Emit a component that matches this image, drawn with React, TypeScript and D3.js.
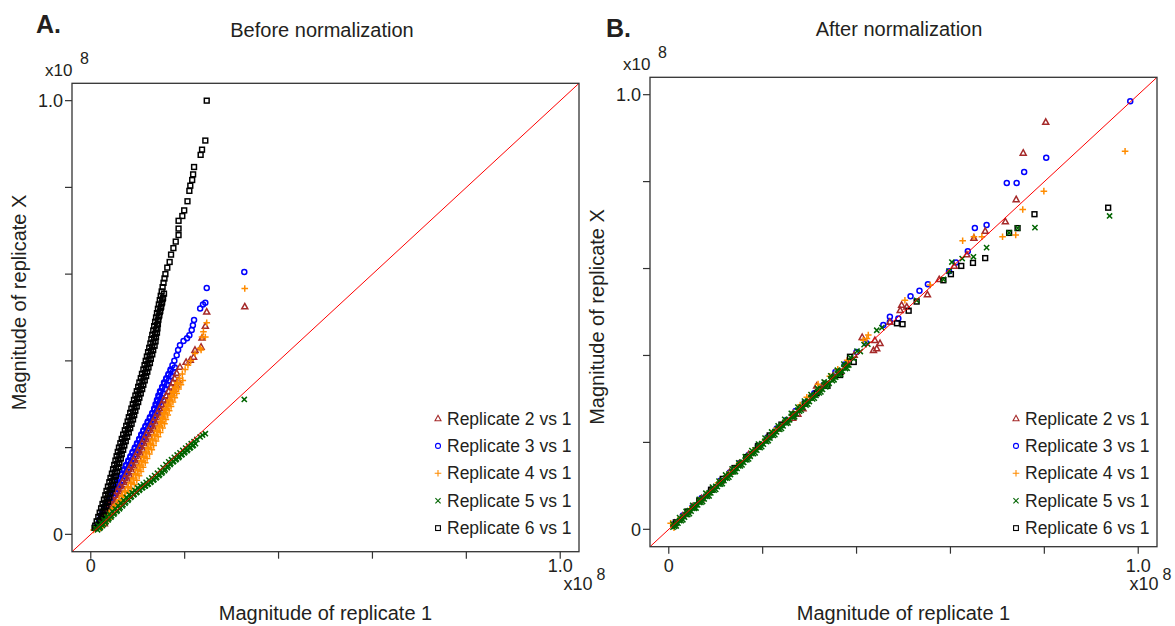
import React from 'react';
import * as d3 from 'd3';

type P = [number, number];

// values in units of 1e6 (axis shows x10^8, 1.0 = 100)
const seriesNames = ['Replicate 2 vs 1', 'Replicate 3 vs 1', 'Replicate 4 vs 1', 'Replicate 5 vs 1', 'Replicate 6 vs 1'];
const seriesColors = ['#a52a2a', '#0000ff', '#ff8c00', '#006400', '#000000'];
const seriesShapes = ['triangle', 'circle', 'plus', 'cross', 'square'];
const drawOrder = [1, 0, 2, 4, 3];

const axisTicks = [0, 20, 40, 60, 80, 100];
const tickLabelMap: Record<number, string> = { 0: '0', 100: '1.0' };

// ---------- Panel A : before normalization ----------
const beforeRep2: P[] = [
  [1.75, 2], [2.2, 3], [2.65, 4], [3.1, 5], [3.6, 6], [4.05, 7], [4.55, 8], [5.1, 9], [5.6, 10], [6.15, 11],
  [6.7, 12], [7.2, 13], [7.65, 14], [8.1, 15], [8.6, 16], [9.05, 17], [9.5, 18], [9.95, 19], [10.4, 20], [10.9, 21],
  [11.35, 22], [11.8, 23], [12.3, 24], [12.75, 25], [13.25, 26], [13.7, 27], [14.2, 28], [14.65, 29], [15.1, 30],
  [15.55, 31], [16.05, 32], [16.6, 33], [17.1, 34], [17.5, 35], [17.9, 36], [18.3, 37.2], [19.0, 38.6], [20.3, 39.7],
  [21.2, 40.2], [21.9, 40.9], [22.2, 42.5], [23.5, 43.2], [23.7, 45.3], [24.4, 48.0], [24.7, 51.3], [32.8, 52.5],
];
const beforeRep2Edge: P[] = [
  [2.9, 2.5], [3.3, 3.5], [3.8, 4.5], [4.25, 5.5], [4.7, 6.5], [5.2, 7.5], [5.7, 8.5], [6.25, 9.5], [6.8, 10.5],
  [7.3, 11.5], [7.85, 12.5], [8.3, 13.5], [8.8, 14.5], [9.25, 15.5], [9.7, 16.5], [10.2, 17.5], [10.6, 18.5],
  [11.1, 19.5], [11.55, 20.5], [12.0, 21.5], [12.5, 22.5], [12.95, 23.5], [13.4, 24.5], [13.9, 25.5], [14.4, 26.5],
  [14.85, 27.5], [15.3, 28.5], [15.8, 29.5], [16.2, 30.5], [16.7, 31.5], [17.2, 32.5], [17.7, 33.5], [18.2, 34.5],
  [18.6, 35.5],
];
const beforeRep3: P[] = [
  [1.4, 2], [1.8, 3], [2.15, 4], [2.5, 5], [2.9, 6], [3.35, 7], [3.8, 8], [4.3, 9], [4.75, 10], [5.2, 11], [5.65, 12],
  [6.1, 13], [6.6, 14], [7.05, 15], [7.5, 16], [8.0, 17], [8.45, 18], [8.9, 19], [9.4, 20], [9.85, 21], [10.3, 22],
  [10.75, 23], [11.2, 24], [11.65, 25], [12.15, 26], [12.6, 27], [13.1, 28], [13.5, 29], [13.8, 30], [14.1, 31],
  [14.4, 32], [14.75, 33], [15.2, 34], [15.6, 35], [16.1, 36], [16.55, 37], [17.0, 38], [17.4, 39], [17.8, 40],
  [18.3, 41.3], [18.6, 42.5], [19.0, 43.6], [19.75, 44.6], [20.5, 45.2], [21.0, 45.9], [21.5, 47.1], [21.75, 48.2],
  [22.0, 49.4], [23.3, 52.1], [23.9, 53.0], [24.4, 53.4], [24.7, 56.8], [32.7, 60.5],
];
const beforeRep3Mid: P[] = [
  [1.85, 2.75], [2.25, 3.75], [2.6, 4.75], [2.95, 5.75], [3.35, 6.75], [3.8, 7.75], [4.25, 8.75], [4.75, 9.75],
  [5.2, 10.75], [5.65, 11.75], [6.1, 12.75], [6.55, 13.75], [7.05, 14.75], [7.5, 15.75], [7.95, 16.75], [8.45, 17.75],
  [8.9, 18.75], [9.35, 19.75], [9.85, 20.75], [10.3, 21.75], [10.75, 22.75], [11.2, 23.75], [11.65, 24.75],
  [12.1, 25.75], [12.6, 26.75], [13.05, 27.75], [13.55, 28.75], [13.95, 29.75], [14.25, 30.75], [14.55, 31.75],
  [14.85, 32.75], [15.2, 33.75], [15.65, 34.75], [16.05, 35.75], [16.55, 36.75], [17.0, 37.75],
];
const beforeRep3Edge: P[] = [
  [2.4, 2.5], [2.8, 3.5], [3.1, 4.5], [3.5, 5.5], [3.9, 6.5], [4.4, 7.5], [4.85, 8.5], [5.3, 9.5], [5.8, 10.5],
  [6.2, 11.5], [6.7, 12.5], [7.15, 13.5], [7.6, 14.5], [8.1, 15.5], [8.55, 16.5], [9.0, 17.5], [9.5, 18.5],
  [9.95, 19.5], [10.4, 20.5], [10.9, 21.5], [11.3, 22.5], [11.8, 23.5], [12.2, 24.5], [12.7, 25.5], [13.2, 26.5],
  [13.6, 27.5], [14.1, 28.5], [14.4, 29.5], [14.75, 30.5], [15.05, 31.5], [15.4, 32.5], [15.8, 33.5], [16.2, 34.5],
  [16.6, 35.5], [17.1, 36.5], [17.5, 37.5], [17.9, 38.5],
];
const beforeRep4: P[] = [
  [0.6, 1], [1.6, 2], [2.5, 3], [3.3, 4], [4.0, 5], [4.75, 6], [5.5, 7], [6.1, 8], [6.75, 9], [7.4, 10], [8.0, 11],
  [8.55, 12], [9.05, 13], [9.5, 14], [9.95, 15], [10.35, 16], [10.8, 17], [11.25, 18], [11.75, 19], [12.2, 20],
  [12.65, 21], [13.1, 22], [13.6, 23], [14.05, 24], [14.5, 25], [14.85, 26], [15.2, 27], [15.55, 28], [15.9, 29],
  [16.3, 30], [16.7, 31], [17.1, 32], [17.5, 33], [17.95, 34], [18.4, 35], [18.9, 36], [19.5, 37], [20.1, 38],
  [20.7, 39], [21.3, 40], [22.2, 41.7], [23.3, 42.9], [23.5, 42.5], [23.7, 45.5], [24.0, 46.7], [24.4, 45.5],
  [24.7, 48.8], [32.8, 56.7],
];
const beforeRep4Mid: P[] = [
  [1.1, 1.75], [2.1, 2.75], [3.0, 3.75], [3.8, 4.75], [4.5, 5.75], [5.25, 6.75], [6.0, 7.75], [6.6, 8.75],
  [7.25, 9.75], [7.9, 10.75], [8.5, 11.75], [9.05, 12.75], [9.55, 13.75], [10.0, 14.75], [10.45, 15.75],
  [10.85, 16.75], [11.3, 17.75], [11.75, 18.75], [12.25, 19.75], [12.7, 20.75], [13.15, 21.75], [13.6, 22.75],
  [14.1, 23.75], [14.55, 24.75], [15.0, 25.75], [15.35, 26.75], [15.7, 27.75], [16.05, 28.75], [16.4, 29.75],
  [16.8, 30.75], [17.2, 31.75], [17.6, 32.75], [18.0, 33.75], [18.45, 34.75],
];
const beforeRep4Edge: P[] = [
  [2.1, 1.5], [3.05, 2.5], [3.9, 3.5], [4.65, 4.5], [5.4, 5.5], [6.1, 6.5], [6.8, 7.5], [7.4, 8.5], [8.1, 9.5],
  [8.7, 10.5], [9.3, 11.5], [9.8, 12.5], [10.3, 13.5], [10.7, 14.5], [11.15, 15.5], [11.6, 16.5], [12.0, 17.5],
  [12.5, 18.5], [13.0, 19.5], [13.4, 20.5], [13.9, 21.5], [14.35, 22.5], [14.8, 23.5], [15.3, 24.5], [15.7, 25.5],
  [16.0, 26.5], [16.4, 27.5], [16.7, 28.5], [17.1, 29.5], [17.5, 30.5], [17.9, 31.5], [18.3, 32.5], [18.7, 33.5],
  [19.2, 34.5], [19.6, 35.5],
];
const beforeRep5: P[] = [
  [1.0, 1.4], [1.6, 2.0], [2.2, 2.7], [2.8, 3.35], [3.4, 4.0], [4.0, 4.65], [4.6, 5.3], [5.2, 5.9], [5.8, 6.55],
  [6.4, 7.2], [7.0, 7.85], [7.6, 8.5], [8.2, 9.1], [8.8, 9.6], [9.4, 10.15], [10.0, 10.7], [10.6, 11.15], [11.2, 11.55],
  [11.8, 12.0], [12.4, 12.5], [13.0, 13.0], [13.6, 13.55], [14.2, 14.1], [14.8, 14.75], [15.4, 15.4], [16.0, 16.1],
  [16.6, 16.7], [17.2, 17.2], [17.8, 17.75], [18.4, 18.3], [19.0, 18.8], [19.6, 19.35], [20.2, 19.9], [20.8, 20.4],
  [21.4, 20.9], [22.0, 21.4], [22.6, 21.9], [23.3, 22.45], [23.8, 22.9], [24.4, 23.2], [32.7, 31.1],
];
const beforeRep5Mid: P[] = [
  [1.45, 1.05], [2.05, 1.65], [2.65, 2.35], [3.25, 3.0], [3.85, 3.65], [4.45, 4.3], [5.05, 4.95], [5.65, 5.55],
  [6.25, 6.2], [6.85, 6.85], [7.45, 7.5], [8.05, 8.15], [8.65, 8.75], [9.25, 9.25], [9.85, 9.8], [10.45, 10.35],
  [11.05, 10.8], [11.65, 11.2], [12.25, 11.65], [12.85, 12.15], [13.45, 12.65], [14.05, 13.2], [14.65, 13.75],
  [15.25, 14.4], [15.85, 15.05], [16.45, 15.75], [17.05, 16.35], [17.65, 16.85], [18.25, 17.4], [18.85, 17.95],
  [19.45, 18.45], [20.05, 19.0], [20.65, 19.55], [21.25, 20.05], [21.85, 20.55],
];
const beforeRep5Edge: P[] = [
  [1.9, 1.4], [2.5, 2.0], [3.1, 2.7], [3.7, 3.35], [4.3, 4.0], [4.9, 4.65], [5.5, 5.3], [6.1, 5.9], [6.7, 6.55],
  [7.3, 7.2], [7.9, 7.85], [8.5, 8.5], [9.1, 9.1], [9.7, 9.6], [10.3, 10.15], [10.9, 10.7], [11.5, 11.1],
  [12.1, 11.5], [12.7, 12.0], [13.3, 12.5], [13.9, 13.0], [14.5, 13.55], [15.1, 14.1], [15.7, 14.7], [16.3, 15.4],
  [16.9, 16.1], [17.5, 16.7], [18.1, 17.2], [18.7, 17.7], [19.3, 18.3], [19.9, 18.8], [20.5, 19.3], [21.1, 19.9],
  [21.7, 20.4], [22.3, 20.9],
];
const beforeRep6: P[] = [
  [0.8, 1.5], [0.95, 2], [1.25, 3], [1.6, 4], [1.9, 5], [2.2, 6], [2.5, 7], [2.8, 8], [3.1, 9], [3.35, 10], [3.65, 11],
  [3.95, 12], [4.2, 13], [4.5, 14], [4.75, 15], [5.0, 16], [5.25, 17], [5.5, 18], [5.75, 19], [6.0, 20], [6.3, 21],
  [6.6, 22], [6.9, 23], [7.25, 24], [7.55, 25], [7.85, 26], [8.1, 27], [8.4, 28], [8.65, 29], [8.95, 30], [9.2, 31],
  [9.5, 32], [9.8, 33], [10.1, 34], [10.35, 35], [10.65, 36], [10.9, 37], [11.2, 38], [11.45, 39], [11.7, 40],
  [11.95, 41], [12.2, 42], [12.45, 43], [12.7, 44], [12.9, 45], [13.1, 46], [13.3, 47], [13.5, 48], [13.7, 49],
  [13.9, 50], [14.1, 51], [14.3, 52], [14.5, 53], [14.7, 54], [14.9, 55], [15.1, 56], [15.3, 57], [15.5, 58],
  [15.7, 59], [15.9, 60], [16.3, 61.5], [16.8, 62.8], [17.1, 64.5], [17.6, 66.0], [18.1, 67.5], [18.7, 69.0],
  [18.7, 70.5], [18.7, 72.3], [19.5, 73.4], [19.9, 74.7], [20.6, 76.8], [21.0, 79.2], [21.2, 80.4], [21.6, 81.7],
  [21.8, 83.0], [22.0, 84.7], [23.4, 87.5], [23.7, 88.7], [24.4, 90.8], [24.7, 100.0],
];
const beforeRep6Mid: P[] = [
  [1.6, 2.25], [1.9, 3.25], [2.2, 4.25], [2.5, 5.25], [2.8, 6.25], [3.1, 7.25], [3.4, 8.25], [3.7, 9.25], [4.0, 10.25],
  [4.3, 11.25], [4.55, 12.25], [4.85, 13.25], [5.1, 14.25], [5.35, 15.25], [5.6, 16.25], [5.85, 17.25], [6.1, 18.25],
  [6.35, 19.25], [6.6, 20.25], [6.9, 21.25], [7.2, 22.25], [7.55, 23.25], [7.9, 24.25], [8.2, 25.25], [8.45, 26.25],
  [8.75, 27.25], [9.0, 28.25], [9.3, 29.25], [9.55, 30.25], [9.85, 31.25], [10.1, 32.25], [10.4, 33.25],
  [10.7, 34.25], [11.0, 35.25], [11.25, 36.25], [11.55, 37.25], [11.8, 38.25], [12.05, 39.25], [12.3, 40.25],
  [12.55, 41.25], [12.8, 42.25], [13.05, 43.25], [13.3, 44.25], [13.5, 45.25], [13.7, 46.25], [13.9, 47.25],
  [14.1, 48.25], [14.3, 49.25], [14.5, 50.25], [14.7, 51.25], [14.9, 52.25], [15.1, 53.25], [15.3, 54.25],
];
const beforeRep6Edge: P[] = [
  [2.1, 2.5], [2.4, 3.5], [2.75, 4.5], [3.05, 5.5], [3.35, 6.5], [3.65, 7.5], [3.95, 8.5], [4.2, 9.5], [4.5, 10.5],
  [4.8, 11.5], [5.1, 12.5], [5.35, 13.5], [5.6, 14.5], [5.9, 15.5], [6.1, 16.5], [6.4, 17.5], [6.6, 18.5],
  [6.9, 19.5], [7.15, 20.5], [7.45, 21.5], [7.75, 22.5], [8.1, 23.5], [8.4, 24.5], [8.7, 25.5], [9.0, 26.5],
  [9.25, 27.5], [9.5, 28.5], [9.8, 29.5], [10.1, 30.5], [10.35, 31.5], [10.65, 32.5], [10.95, 33.5], [11.2, 34.5],
  [11.5, 35.5], [11.8, 36.5], [12.05, 37.5], [12.3, 38.5], [12.6, 39.5], [12.8, 40.5], [13.1, 41.5], [13.3, 42.5],
  [13.6, 43.5], [13.8, 44.5], [13.9, 45.5], [14.1, 46.5], [14.2, 47.5], [14.3, 48.5], [14.4, 49.5], [14.6, 50.5],
  [14.8, 51.5], [15.0, 52.5], [15.2, 53.5], [15.4, 54.5], [15.6, 55.5],
];

// ---------- Panel B : after normalization ----------
const afterRep2: P[] = [
  [1.2, 1.4], [3, 3.1], [5, 5.2], [7, 7.1], [9, 9.2], [11, 11.1], [13, 13.2], [15, 15.1], [17, 17.2], [19, 19.1],
  [21, 21.2], [23, 23.1], [25, 25.0], [26.4, 25.6], [27.5, 26.5], [28.6, 27.8], [30, 30.3], [31.5, 33.0], [33, 33.4],
  [35, 35.3], [36.5, 36.2], [38, 38.4], [39.5, 40.1], [41.2, 44.2], [43.6, 41.2], [44.3, 41.6], [45.0, 42.8],
  [43.9, 43.5], [47.1, 47.7], [49.6, 51.6], [49.3, 50.4], [50.7, 51.2], [55.1, 54.0], [57.6, 57.5], [60.8, 60.6],
  [63.5, 63.2], [65.0, 67.0], [67.4, 68.6], [71.7, 70.8], [74.0, 75.9], [75.5, 86.6], [80.3, 93.7],
];
const afterRep3: P[] = [
  [1.0, 1.1], [3, 3.2], [5, 5.1], [7, 7.2], [9, 9.1], [11, 11.2], [13, 13.1], [15, 15.2], [17, 17.1], [19, 19.2],
  [21, 21.1], [23, 23.2], [25, 25.1], [27, 27.2], [29, 29.1], [31, 31.3], [33, 33.2], [35.5, 36.2], [37.5, 37.9],
  [40, 40.8], [42, 42.9], [45.7, 47.0], [47.1, 47.7], [47.1, 48.9], [48.9, 48.5], [51.5, 53.6], [53.4, 54.9],
  [55.2, 56.4], [59.7, 59.4], [61.2, 61.4], [63.7, 64.0], [65.2, 69.3], [67.7, 70.0], [72.0, 79.7], [74.1, 79.7],
  [75.7, 82.2], [80.4, 85.5], [98.3, 98.5],
];
const afterRep4: P[] = [
  [0.4, 1.4], [1.1, 0.4], [2.5, 2.7], [4.5, 4.6], [6.5, 6.7], [8.5, 8.6], [10.5, 10.7], [12.5, 12.6], [14.5, 14.7],
  [16.5, 16.6], [18.5, 18.7], [20.5, 20.6], [22.5, 22.7], [24.5, 24.6], [26.5, 26.8], [28, 28.6], [29.4, 30.4],
  [31.8, 33.4], [34.3, 35.2], [36, 36.8], [38, 38.9], [41.4, 43.5], [42.2, 43.9], [42.5, 44.7], [50.3, 52.7],
  [55.7, 56.2], [62.6, 66.4], [65.0, 67.3], [66.7, 67.3], [71.1, 67.3], [73.9, 67.7], [75.4, 73.6], [79.9, 77.8],
  [97.2, 87.0],
];
const afterRep5: P[] = [
  [0.9, 1.2], [1.6, 1.5], [2.3, 2.7], [3.0, 2.9], [3.7, 4.1], [4.4, 4.3], [5.1, 5.5], [5.8, 5.6], [6.5, 6.9],
  [7.2, 7.1], [7.9, 8.3], [8.6, 8.4], [9.3, 9.7], [10.0, 9.9], [10.7, 11.1], [11.4, 11.2], [12.1, 12.5], [12.8, 12.7],
  [13.5, 13.9], [14.2, 14.0], [14.9, 15.3], [15.6, 15.5], [16.3, 16.7], [17.0, 16.9], [17.7, 18.1], [18.4, 18.3],
  [19.1, 19.6], [19.8, 19.7], [20.5, 21.0], [21.2, 21.1], [21.9, 22.4], [22.6, 22.5], [23.3, 23.8], [24.0, 23.9],
  [24.7, 25.3], [25.4, 25.2], [26.1, 26.7], [26.8, 26.6], [27.5, 28.1], [28.2, 28.1], [28.9, 29.5], [29.6, 29.5],
  [30.3, 31.0], [31.0, 30.9], [31.7, 32.4], [32.4, 32.3], [33.1, 33.9], [33.8, 33.7], [34.5, 35.3], [35.2, 35.1],
  [35.9, 36.6], [36.6, 36.4], [37.3, 38.0], [38.0, 37.8], [38.7, 39.5], [39.4, 39.3], [40.1, 41.0], [40.8, 40.9],
  [41.6, 42.5], [42.4, 42.6], [44.3, 45.8], [45.4, 46.4], [52.8, 52.7], [58.5, 57.5], [59.7, 59.4], [60.3, 61.5],
  [62.5, 62.3], [64.9, 62.7], [67.7, 64.8], [72.5, 68.2], [74.3, 69.3], [78.0, 69.4], [93.9, 72.1],
];
const afterRep5Mid: P[] = [
  [0.9, 0.5], [1.6, 0.8], [2.3, 2.0], [3.0, 2.2], [3.7, 3.4], [4.4, 3.6], [5.1, 4.8], [5.8, 4.9], [6.5, 6.2],
  [7.2, 6.4], [7.9, 7.6], [8.6, 7.7], [9.3, 9.0], [10.0, 9.2], [10.7, 10.4], [11.4, 10.5], [12.1, 11.8], [12.8, 12.0],
  [13.5, 13.2], [14.2, 13.3], [14.9, 14.6], [15.6, 14.8], [16.3, 16.0], [17.0, 16.2], [17.7, 17.4], [18.4, 17.6],
  [19.1, 18.9], [19.8, 19.0], [20.5, 20.3], [21.2, 20.4], [21.9, 21.7], [22.6, 21.8], [23.3, 23.1], [24.0, 23.2],
  [24.7, 24.6], [25.4, 24.5], [26.1, 26.0], [26.8, 25.9], [27.5, 27.4], [28.2, 27.4], [28.9, 28.8], [29.6, 28.8],
  [30.3, 30.3], [31.0, 30.2], [31.7, 31.7], [32.4, 31.6], [33.1, 33.2], [33.8, 33.0], [34.5, 34.6], [35.2, 34.4],
  [35.9, 35.9], [36.6, 35.7], [37.3, 37.3], [38.0, 37.1],
];
const afterRep5Edge: P[] = [
  [1.25, 0.7], [1.95, 1.4], [2.65, 2.0], [3.35, 2.8], [4.05, 3.4], [4.75, 4.2], [5.45, 4.8], [6.15, 5.6], [6.85, 6.2],
  [7.55, 7.0], [8.25, 7.6], [8.95, 8.4], [9.65, 9.0], [10.35, 9.8], [11.05, 10.4], [11.75, 11.2], [12.45, 11.8],
  [13.15, 12.6], [13.85, 13.2], [14.55, 14.0], [15.25, 14.6], [15.95, 15.4], [16.65, 16.0], [17.35, 16.8],
  [18.05, 17.4], [18.75, 18.2], [19.45, 18.8], [20.15, 19.6], [20.85, 20.2], [21.55, 21.0], [22.25, 21.6],
  [22.95, 22.4], [23.65, 23.0], [24.35, 23.8], [25.05, 24.4], [25.75, 25.2], [26.45, 25.8], [27.15, 26.6],
  [27.85, 27.2], [28.55, 28.0], [29.25, 28.6], [29.95, 29.4], [30.65, 30.0], [31.35, 30.8], [32.05, 31.4],
  [32.75, 32.2], [33.45, 32.8], [34.15, 33.6], [34.85, 34.2], [35.55, 35.0], [36.25, 35.6], [36.95, 36.4],
  [37.65, 37.0], [38.35, 37.8],
];
const afterRep6: P[] = [
  [1.5, 1.6], [4, 4.1], [6.5, 6.6], [9, 9.1], [11.5, 11.6], [14, 14.1], [16.5, 16.6], [19, 19.1], [21.5, 21.6],
  [24, 24.1], [26.5, 26.4], [29, 28.9], [31.5, 31.3], [33.8, 33.0], [36.5, 35.5], [38.6, 39.7], [39.4, 38.5],
  [48.6, 47.4], [49.8, 47.2], [51.1, 50.3], [52.8, 52.4], [58.5, 57.3], [60.1, 58.7], [62.3, 60.6], [64.8, 61.3],
  [67.4, 62.4], [72.5, 68.2], [74.3, 69.3], [77.9, 72.5], [93.6, 74.0],
];

const FONT = '"Liberation Sans", Arial, Helvetica, sans-serif';
const TXT = '#231f20';
const AXC = '#333';

function Marker({ shape, color, x, y, sw = 1.5 }: { shape: string; color: string; x: number; y: number; sw?: number }) {
  if (shape === 'triangle')
    return <path d={`M${x},${y - 3.2}L${x + 3},${y + 2.2}L${x - 3},${y + 2.2}Z`} fill="none" stroke={color} strokeWidth={sw} />;
  if (shape === 'circle') return <circle cx={x} cy={y} r={2.5} fill="none" stroke={color} strokeWidth={sw} />;
  if (shape === 'plus')
    return <path d={`M${x - 3.3},${y}H${x + 3.3}M${x},${y - 3.3}V${y + 3.3}`} fill="none" stroke={color} strokeWidth={sw} />;
  if (shape === 'cross')
    return <path d={`M${x - 2.6},${y - 2.6}L${x + 2.6},${y + 2.6}M${x - 2.6},${y + 2.6}L${x + 2.6},${y - 2.6}`} fill="none" stroke={color} strokeWidth={sw} />;
  return <rect x={x - 2.4} y={y - 2.4} width={4.8} height={4.8} fill="none" stroke={color} strokeWidth={sw} />;
}

type PanelProps = {
  letter: string; title: string; series: P[][];
  left: number; right: number; top: number; bottom: number;
  letterX: number; letterY: number; titleX: number; titleY: number;
  yLabelX: number; yLabelY: number; legendY0: number; expX: number;
};

function Panel(p: PanelProps) {
  const x = d3.scaleLinear().domain([-4, 104]).range([p.left, p.right]);
  const y = d3.scaleLinear().domain([-4, 104]).range([p.bottom, p.top]);
  const cx = (p.left + p.right) / 2;
  return (
    <g fontFamily={FONT} fill={TXT}>
      <text x={p.letterX} y={p.letterY} fontSize={25} fontWeight="bold">{p.letter}</text>
      <text x={p.titleX} y={p.titleY} fontSize={20} textAnchor="middle">{p.title}</text>
      <text x={p.left - 27} y={p.top - 7} fontSize={17}>x10</text>
      <text x={p.left + 8} y={p.top - 19} fontSize={16}>8</text>
      {drawOrder.map((si) => (
        <g key={si}>
          {p.series[si].map((d, i) => (
            <Marker key={i} shape={seriesShapes[si]} color={seriesColors[si]} x={x(d[0])} y={y(d[1])} />
          ))}
        </g>
      ))}
      <line x1={x(-4)} y1={y(-4)} x2={x(104)} y2={y(104)} stroke="#ff0000" strokeWidth={1} />
      <rect x={p.left} y={p.top} width={p.right - p.left} height={p.bottom - p.top} fill="none" stroke={AXC} strokeWidth={1.3} />
      {axisTicks.map((t) => (
        <g key={t}>
          <line x1={x(t)} x2={x(t)} y1={p.bottom} y2={p.bottom + 7} stroke={AXC} strokeWidth={1.2} />
          <line x1={p.left - 7} x2={p.left} y1={y(t)} y2={y(t)} stroke={AXC} strokeWidth={1.2} />
          {tickLabelMap[t] !== undefined && (
            <>
              <text x={x(t)} y={572} fontSize={18} textAnchor="middle">{tickLabelMap[t]}</text>
              <text x={p.left - 9} y={y(t) + 6.5} fontSize={18} textAnchor="end">{tickLabelMap[t]}</text>
            </>
          )}
        </g>
      ))}
      <text x={p.expX} y={590} fontSize={18}>x10</text>
      <text x={p.expX + 33} y={580} fontSize={16}>8</text>
      <text x={cx} y={620} fontSize={20} textAnchor="middle">Magnitude of replicate 1</text>
      <text transform={`translate(${p.yLabelX},${p.yLabelY}) rotate(-90)`} fontSize={20} textAnchor="middle">
        Magnitude of replicate X
      </text>
      {seriesNames.map((n, i) => {
        const ly = p.legendY0 + i * 27.4;
        return (
          <g key={n}>
            <Marker shape={seriesShapes[i]} color={seriesColors[i]} x={p.right - 141} y={ly} sw={1.1} />
            <text x={p.right - 132} y={ly + 6} fontSize={17.5}>{n}</text>
          </g>
        );
      })}
    </g>
  );
}

export default function App() {
  const before = [
    [...beforeRep2, ...beforeRep2Edge],
    [...beforeRep3, ...beforeRep3Mid, ...beforeRep3Edge],
    [...beforeRep4, ...beforeRep4Mid, ...beforeRep4Edge],
    [...beforeRep5, ...beforeRep5Mid, ...beforeRep5Edge],
    [...beforeRep6, ...beforeRep6Mid, ...beforeRep6Edge],
  ];
  const after = [afterRep2, afterRep3, afterRep4, [...afterRep5, ...afterRep5Mid, ...afterRep5Edge], afterRep6];
  return (
    <svg width={1175} height={626} style={{ position: 'absolute', left: 0, top: 0, background: '#fff' }}>
      <rect width={1175} height={626} fill="#fff" />
      <Panel
        letter="A." title="Before normalization" series={before}
        left={72} right={579} top={83.3} bottom={551.7}
        letterX={36} letterY={33} titleX={322} titleY={36.5}
        yLabelX={26} yLabelY={302.5} legendY0={418.5} expX={563.5}
      />
      <Panel
        letter="B." title="After normalization" series={after}
        left={650} right={1157} top={77.3} bottom={546.7}
        letterX={606} letterY={37} titleX={899} titleY={36}
        yLabelX={604} yLabelY={317} legendY0={418.5} expX={1129.5}
      />
    </svg>
  );
}
